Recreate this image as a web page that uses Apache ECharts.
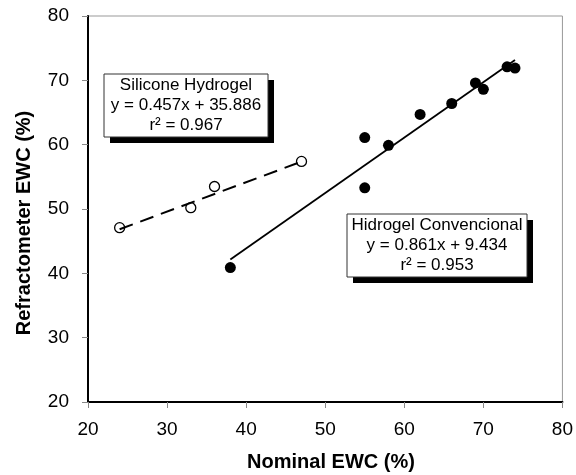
<!DOCTYPE html>
<html>
<head>
<meta charset="utf-8">
<script src="https://cdn.jsdelivr.net/npm/echarts@6/dist/echarts.min.js"></script>
<style>
  html, body { margin: 0; padding: 0; background: #fff; }
  #chart { width: 576px; height: 475px; }
</style>
</head>
<body>
<div id="chart"></div>
<script>
// Conventional hydrogel lenses: nominal vs refractometer EWC (%)
const nominalConv = [38, 55, 55, 58, 62, 66, 69, 70, 73, 74];
const refracConv  = [40.9, 61.1, 53.3, 59.9, 64.7, 66.4, 69.6, 68.6, 72.1, 71.9];

// Silicone hydrogel lenses
const nominalSil = [24, 33, 36, 47];
const refracSil  = [47.1, 50.2, 53.5, 57.4];

// Linear fit coefficients (slope, intercept, r²) as printed in the boxes
const fitConv = { slope: 0.861, intercept: 9.434, r2: '0.953' };
const fitSil  = { slope: 0.457, intercept: 35.886, r2: '0.967' };

// Axis tick values
const xTicks = [20, 30, 40, 50, 60, 70, 80];
const yTicks = [20, 30, 40, 50, 60, 70, 80];

const pairs = (xs, ys) => xs.map((x, i) => [x, ys[i]]);
const fitLine = (xs, f) => {
  const lo = Math.min(...xs), hi = Math.max(...xs);
  return [[lo, f.slope * lo + f.intercept], [hi, f.slope * hi + f.intercept]];
};

const FONT = 'Liberation Sans, Arial, sans-serif';

const chart = echarts.init(document.getElementById('chart'), null, { renderer: 'canvas' });

function box(x, y, w, h, lines) {
  return {
    type: 'group',
    children: [
      { type: 'rect', shape: { x: x + 6, y: y + 6, width: w, height: h }, style: { fill: '#000' } },
      { type: 'rect', shape: { x: x, y: y, width: w, height: h }, style: { fill: '#fff', stroke: '#333', lineWidth: 1 } },
      {
        type: 'text',
        x: x + w / 2, y: y + h / 2,
        style: {
          text: lines.join('\n'),
          font: '17px ' + FONT,
          fill: '#000',
          align: 'center',
          verticalAlign: 'middle',
          lineHeight: 20
        }
      }
    ]
  };
}

chart.setOption({
  animation: false,
  backgroundColor: '#fff',
  grid: { left: 88, top: 16, right: 12, bottom: 73, show: true, borderColor: '#999', borderWidth: 1 },
  xAxis: {
    type: 'value',
    min: xTicks[0], max: xTicks[xTicks.length - 1], interval: 10,
    axisLine: { show: true, lineStyle: { color: '#000', width: 2 } },
    axisTick: { show: true, inside: false, length: 6, lineStyle: { color: '#888', width: 1 } },
    axisLabel: { color: '#000', fontSize: 19, fontFamily: FONT, margin: 18 },
    splitLine: { show: false }
  },
  yAxis: {
    type: 'value',
    min: yTicks[0], max: yTicks[yTicks.length - 1], interval: 10,
    axisLine: { show: true, lineStyle: { color: '#000', width: 2 } },
    axisTick: { show: true, inside: false, length: 6, lineStyle: { color: '#888', width: 1 } },
    axisLabel: { color: '#000', fontSize: 19, fontFamily: FONT, margin: 19 },
    splitLine: { show: false }
  },
  series: [
    {
      name: 'Silicone Hydrogel fit', type: 'line', data: fitLine(nominalSil, fitSil),
      showSymbol: false, symbol: 'none', z: 3,
      lineStyle: { color: '#000', width: 2, type: [14, 8] }
    },
    {
      name: 'Hidrogel Convencional fit', type: 'line', data: fitLine(nominalConv, fitConv),
      showSymbol: false, symbol: 'none', z: 3,
      lineStyle: { color: '#000', width: 1.8 }
    },
    {
      name: 'Silicone Hydrogel', type: 'scatter', data: pairs(nominalSil, refracSil),
      symbol: 'circle', symbolSize: 10, z: 2,
      itemStyle: { color: 'rgba(0,0,0,0)', borderColor: '#000', borderWidth: 1.3, opacity: 1 }
    },
    {
      name: 'Hidrogel Convencional', type: 'scatter', data: pairs(nominalConv, refracConv),
      symbol: 'circle', symbolSize: 11, z: 2,
      itemStyle: { color: '#000', opacity: 1 }
    }
  ],
  graphic: [
    box(104, 74, 164, 63, ['Silicone Hydrogel', 'y = ' + fitSil.slope + 'x + ' + fitSil.intercept, 'r\u00b2 = ' + fitSil.r2]),
    box(347, 214, 180, 63, ['Hidrogel Convencional', 'y = ' + fitConv.slope + 'x + ' + fitConv.intercept, 'r\u00b2 = ' + fitConv.r2]),
    {
      type: 'text', x: 331, y: 462,
      style: { text: 'Nominal EWC (%)', font: 'bold 20px ' + FONT, fill: '#000', align: 'center', verticalAlign: 'middle' }
    },
    {
      type: 'text', x: 24, y: 223, rotation: Math.PI / 2,
      style: { text: 'Refractometer EWC (%)', font: 'bold 20px ' + FONT, fill: '#000', align: 'center', verticalAlign: 'middle' }
    }
  ]
});
</script>
</body>
</html>
